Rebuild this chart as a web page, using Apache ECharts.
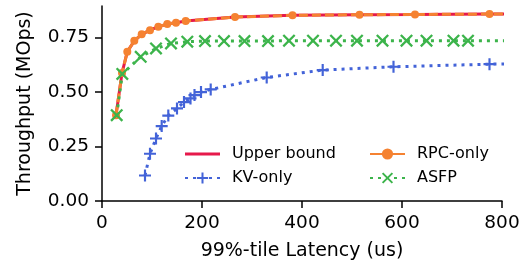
<!DOCTYPE html>
<html>
<head>
<meta charset="utf-8">
<script src="https://cdn.jsdelivr.net/npm/echarts@6/dist/echarts.min.js"></script>
<style>
  html, body { margin: 0; padding: 0; background: #fff; }
  #chart { width: 532px; height: 266px; }
</style>
</head>
<body>
<div id="chart"></div>
<script>
// data (latency in us, throughput in MOps)
const upperX = [28, 40, 50.6, 64.6, 79.4, 96, 112.6, 130.6, 148, 167.4, 266, 381, 515, 626, 775, 860]
const upperY = [0.394, 0.587, 0.685, 0.735, 0.765, 0.784, 0.800, 0.812, 0.818, 0.826, 0.844, 0.852, 0.855, 0.856, 0.858, 0.859]

const rpcX = [28, 40, 50.6, 64.6, 79.4, 96, 112.6, 130.6, 148, 167.4, 266, 381, 515, 626, 775, 860]
const rpcY = [0.394, 0.587, 0.685, 0.735, 0.765, 0.784, 0.800, 0.812, 0.818, 0.826, 0.844, 0.852, 0.855, 0.856, 0.858, 0.859]

const kvX = [86, 96, 108, 119.4, 132.6, 150, 164, 177, 185, 198, 217.4, 329.4, 441.4, 583, 775, 860]
const kvY = [0.117, 0.217, 0.287, 0.344, 0.392, 0.425, 0.454, 0.471, 0.486, 0.500, 0.512, 0.567, 0.601, 0.616, 0.628, 0.631]

const asfpX = [29.4, 40.6, 77.4, 108, 138, 170.6, 206, 244, 285, 332, 374, 422, 468, 510, 561, 609, 649, 703, 732, 860]
const asfpY = [0.394, 0.583, 0.662, 0.700, 0.723, 0.731, 0.734, 0.734, 0.734, 0.734, 0.736, 0.736, 0.736, 0.736, 0.736, 0.736, 0.736, 0.736, 0.736, 0.736]

const xTicks = [0, 200, 400, 600, 800]
const yTicks = [0, 0.25, 0.5, 0.75]

const zip = (xs, ys) => xs.map((x, i) => [x, ys[i]])

const font = 'DejaVu Sans'
const plusPath = 'path://M-1.8,-10 L1.8,-10 L1.8,10 L-1.8,10 Z M-10,-1.8 L10,-1.8 L10,1.8 L-10,1.8 Z'
const xPath = 'path://M-10,-7.5 L-7.5,-10 L10,7.5 L7.5,10 Z M7.5,-10 L10,-7.5 L-7.5,10 L-10,7.5 Z'
// plain solid line for the upper bound legend entry
const solidIcon = 'path://M0,0 L35,0 L35,3 L0,3 Z'

const legendText = { fontSize: 16, color: '#000', fontFamily: font, padding: [0, 0, 0, 7] }

const chart = echarts.init(document.getElementById('chart'))
chart.setOption({
  animation: false,
  textStyle: { fontFamily: font },
  grid: { left: 102, right: 30, top: 6, bottom: 65 },
  legend: [{
    orient: 'vertical',
    left: 184,
    top: 146,
    padding: 0,
    itemWidth: 35,
    itemHeight: 14,
    itemGap: 8,
    textStyle: legendText,
    data: [{ name: 'Upper bound', icon: solidIcon }, 'KV-only'],
  }, {
    orient: 'vertical',
    left: 369,
    top: 146,
    padding: 0,
    itemWidth: 35,
    itemHeight: 14,
    itemGap: 8,
    textStyle: legendText,
    data: [{ name: 'RPC-only', lineStyle: { type: 'solid' } }, 'ASFP'],
  }],
  xAxis: {
    type: 'value',
    min: 0,
    max: 800,
    interval: 200,
    name: '99%-tile Latency (us)',
    nameLocation: 'middle',
    nameGap: 41,
    nameTextStyle: { fontSize: 19, color: '#000', fontFamily: font, verticalAlign: 'top' },
    axisLine: { lineStyle: { color: '#000', width: 1.5 } },
    axisTick: { length: 7, lineStyle: { color: '#000', width: 1.5 }, customValues: xTicks },
    axisLabel: { fontSize: 18.5, color: '#000', margin: 13, customValues: xTicks },
    splitLine: { show: false },
  },
  yAxis: {
    type: 'value',
    min: 0,
    max: 0.895,
    interval: 0.25,
    name: 'Throughput (MOps)',
    nameLocation: 'middle',
    nameRotate: 90,
    nameGap: 67,
    nameTextStyle: { fontSize: 19, color: '#000', fontFamily: font },
    axisLine: { show: true, lineStyle: { color: '#000', width: 1.5 } },
    axisTick: { show: true, length: 7, lineStyle: { color: '#000', width: 1.5 }, customValues: yTicks },
    axisLabel: {
      fontSize: 18.5, color: '#000', margin: 13, customValues: yTicks,
      formatter: function (v) { return v.toFixed(2) },
    },
    splitLine: { show: false },
  },
  series: [
    {
      name: 'Upper bound',
      type: 'line',
      data: zip(upperX, upperY),
      showSymbol: false,
      symbol: 'none',
      lineStyle: { color: '#e6194b', width: 3 },
      itemStyle: { color: '#e6194b' },
    },
    {
      name: 'RPC-only',
      type: 'line',
      data: zip(rpcX, rpcY),
      symbol: 'circle',
      symbolSize: 8,
      lineStyle: { color: '#f58231', width: 3, type: [9, 4] },
      itemStyle: { color: '#f58231' },
    },
    {
      name: 'KV-only',
      type: 'line',
      data: zip(kvX, kvY),
      symbol: plusPath,
      symbolSize: 12,
      lineStyle: { color: '#4363d8', width: 3, type: [3, 5] },
      itemStyle: { color: '#4363d8' },
    },
    {
      name: 'ASFP',
      type: 'line',
      data: zip(asfpX, asfpY),
      symbol: xPath,
      symbolSize: 13,
      lineStyle: { color: '#3cb44b', width: 3, type: [3, 5] },
      itemStyle: { color: '#3cb44b' },
    },
  ],
})
</script>
</body>
</html>
